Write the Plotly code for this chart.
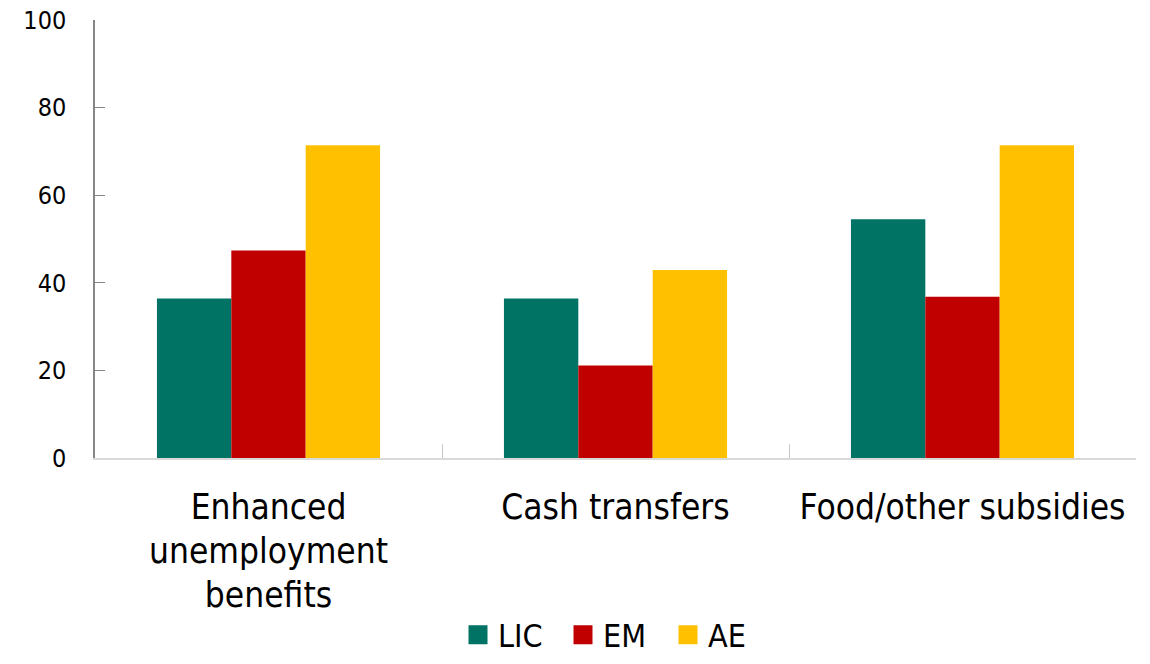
import plotly.graph_objects as go

# Share of countries adopting each type of support measure (%)
categories = ["Enhanced<br>unemployment<br>benefits", "Cash transfers", "Food/other subsidies"]
series_names = ["LIC", "EM", "AE"]
lic_values = [36.4, 36.4, 54.5]
em_values = [47.4, 21.1, 36.8]
ae_values = [71.4, 42.9, 71.4]
y_ticks = [0, 20, 40, 60, 80, 100]

colors = {"LIC": "#007365", "EM": "#C00000", "AE": "#FFC000"}
FONT = "DejaVu Sans Condensed, Liberation Sans Narrow, sans-serif"

fig = go.Figure()
for name, vals in zip(series_names, [lic_values, em_values, ae_values]):
    fig.add_trace(go.Bar(
        x=categories, y=vals, name=name,
        marker=dict(color=colors[name], line=dict(width=0)),
        showlegend=False,
    ))
    # legend entry with a larger square swatch
    fig.add_trace(go.Scatter(
        x=[None], y=[None], mode="markers", name=name,
        marker=dict(symbol="square", size=16, color=colors[name],
                    line=dict(color=colors[name], width=3)),
    ))

# larger glyphs on each line, tighter line spacing from the base size
tick_text = ['<span style="font-size:35px">%s</span>' % c.replace("<br>", '</span><br><span style="font-size:35px">') for c in categories]

fig.update_layout(
    width=1150, height=664,
    margin=dict(l=95, r=14, t=20, b=206, autoexpand=False),
    paper_bgcolor="white", plot_bgcolor="white",
    font=dict(family=FONT, color="black"),
    barmode="group", bargap=0.357, bargroupgap=0,
    showlegend=True,
    legend=dict(orientation="h", x=0.5, xanchor="center", y=-0.467, yanchor="bottom",
                font=dict(size=32, family=FONT), itemsizing="trace",
                entrywidth=60, entrywidthmode="pixels"),
    xaxis=dict(
        type="category", tickmode="array", tickvals=categories, ticktext=tick_text,
        tickson="boundaries", ticks="inside", ticklen=14, tickcolor="#c8c8c8",
        showline=True, linecolor="#d9d9d9", linewidth=2,
        showgrid=False, zeroline=False, tickangle=0, automargin=False,
        ticklabelstandoff=18,
        tickfont=dict(size=34, family=FONT),
    ),
    yaxis=dict(
        range=[0, 100], tickvals=y_ticks, ticks="inside", ticklen=10,
        tickcolor="#868686", showline=True, linecolor="#868686", linewidth=1.5,
        showgrid=False, zeroline=False, ticklabelstandoff=22, automargin=False,
        tickfont=dict(size=25, family=FONT),
    ),
)

fig.write_html("out.html")
